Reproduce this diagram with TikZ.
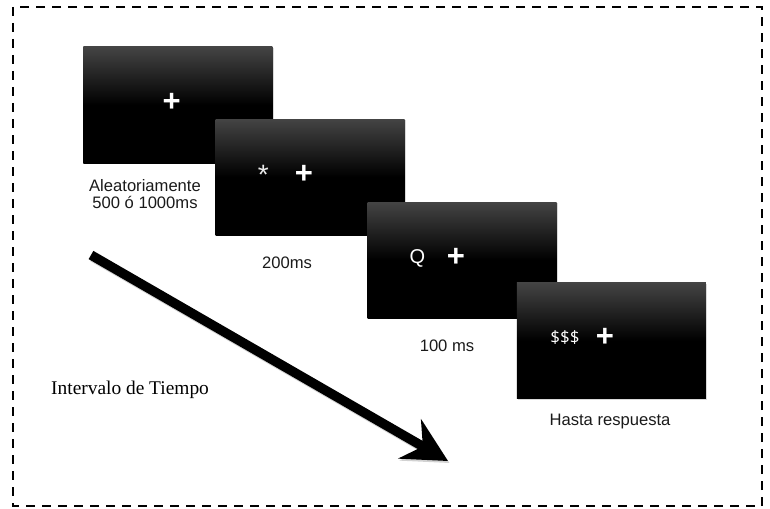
\documentclass[tikz,border=0pt]{standalone}
\usepackage{fontspec}
\setmainfont{Liberation Sans}
\newfontfamily\serifface{Liberation Serif}
\newfontfamily\dollarface{Open Sans}
\usetikzlibrary{arrows.meta,shadows}
\definecolor{screentop}{HTML}{444444}
\definecolor{captioncol}{HTML}{1A1A1A}

\begin{document}
\begin{tikzpicture}[x=1pt,y=-1pt,
  screen/.style={rectangle, minimum width=189pt, minimum height=116pt,
    inner sep=0pt, top color=screentop, bottom color=black, middle color=black,
    drop shadow={shadow xshift=1.2pt, shadow yshift=-1.2pt, opacity=0.3}},
  crossmark/.style={text=white, inner sep=0pt, font=\fontsize{31}{31}\selectfont\bfseries},
  cue/.style={text=white, inner sep=0pt, font=\fontsize{20}{20}\selectfont},
  caption/.style={text=captioncol, inner sep=0pt, align=center,
    font=\fontsize{16.6}{16.6}\selectfont},
  frame/.style={line width=2.5pt, dash pattern=on 9pt off 7pt},
  timearrow/.style={line width=9.5pt,
    -{Stealth[length=44pt, width=45pt, inset=15pt]}}
]
\useasboundingbox (0,0) rectangle (770,508);

% dashed outer frame
\draw[frame] (13,7) rectangle (762,506);

% fixation screen
\node[screen] (s1) at (177.8,105) {};
\node[crossmark] (p1) at (171.7,102.7) {+};
\node[caption, anchor=center] (c1) at (145,194) {Aleatoriamente\\[0.5pt]500 ó 1000ms};

% cue screen
\node[screen] (s2) at (310,177) {};
\node[text=white!92!black, inner sep=0pt, font=\fontsize{28}{28}\selectfont] (a2) at (263.3,175) {*};
\node[crossmark] (p2) at (304,174) {+};
\node[caption, anchor=base] (c2) at (287,268.3) {200ms};

% target screen
\node[screen] (s3) at (462,260) {};
\node[cue] (q3) at (417.3,258.3) {Q};
\node[crossmark] (p3) at (456,257.3) {+};
\node[caption, anchor=base] (c3) at (447,351) {100 ms};

% response screen
\node[screen] (s4) at (611.3,340.7) {};
\node[text=white, inner sep=0pt, font=\dollarface\fontsize{17}{17}\selectfont] (d4) at (565,337.7) {\$\$\$};
\node[crossmark] (p4) at (605,337.7) {+};
\node[caption, anchor=base] (c4) at (610,425) {Hasta respuesta};

% time axis
\node[anchor=base west, inner sep=0pt, font=\serifface\fontsize{19.4}{19.4}\selectfont] (tl) at (51,394) {Intervalo de Tiempo};
\coordinate (tstart) at (91,255);
\coordinate (tend) at (448,461);
\draw[timearrow, draw=black!35, opacity=0.5] ([shift={(1.5,2)}]tstart) -- ([shift={(1.5,2)}]tend);
\draw[timearrow] (tstart) -- (tend);
\end{tikzpicture}
\end{document}
